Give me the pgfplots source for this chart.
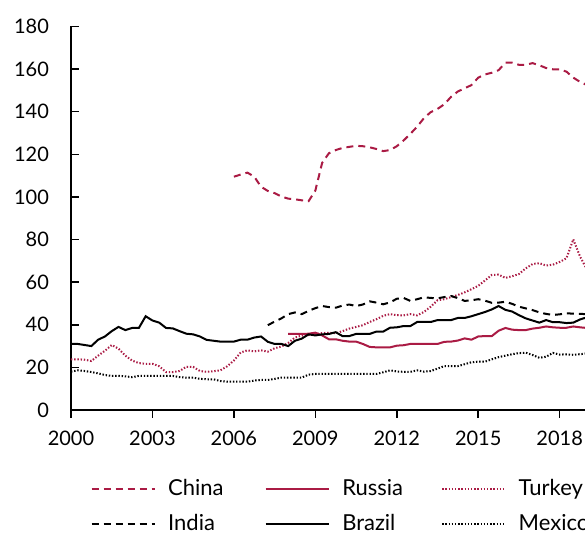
\documentclass[border=0pt]{standalone}
\usepackage{fontspec}
\setmainfont{Lato}
\usepackage{pgfplots}
\pgfplotsset{compat=1.18}
\definecolor{crim}{RGB}{170,27,68}
\begin{document}
\begin{tikzpicture}[font=\fontsize{10}{12}\selectfont]
\useasboundingbox (-35.5pt,-61.5pt) rectangle (257pt,205pt);
\begin{axis}[
  at={(0,0)}, anchor=south west,
  scale only axis, width=271.5pt, height=191.75pt,
  xmin=2000, xmax=2020, ymin=0, ymax=180,
  axis lines*=left,
  axis line style={line width=0.75pt},
  tick align=inside,
  major tick length=4pt, minor tick length=4pt,
  every tick/.style={black, line width=0.75pt},
  x tick style={yshift=-4pt},
  xtick={2000,2003,...,2018}, minor x tick num=2,
  ytick={0,20,...,180},
  /pgf/number format/assume math mode=true,
  /pgf/number format/1000 sep={},
  tick label style={font=\fontsize{10}{12}\selectfont},
  yticklabel style={xshift=-7.5pt},
  xticklabel style={yshift=-7pt},
  legend columns=3,
  legend style={draw=none, fill=none, at={(0,0)}, anchor=north west,
    xshift=9.8pt, yshift=-34.5pt, inner sep=0pt, outer sep=0pt,
    nodes={inner sep=0pt, outer sep=0pt}, cells={anchor=west},
    row sep=8pt, font=\fontsize{11}{13}\selectfont,
    /tikz/every odd column/.style={column sep=6.3pt},
    /tikz/column 2/.style={column sep=20.5pt},
    /tikz/column 4/.style={column sep=19pt}},
  legend image code/.code={\draw[#1] (0pt,0pt) -- (31.5pt,0pt);},
  every axis plot/.append style={line width=1pt},
]
% China
\addplot[crim, dash pattern=on 3.5pt off 2.5pt] coordinates {
(2006.00,109.5)(2006.25,110.5)(2006.50,111.4)(2006.75,109.5)(2007.00,104.8)(2007.25,102.8)(2007.50,101.8)(2007.75,100.2)
(2008.00,99.2)(2008.25,98.9)(2008.50,98.4)(2008.75,98)(2009.00,103)(2009.25,116)(2009.50,120.5)(2009.75,122)
(2010.00,123)(2010.25,123.5)(2010.50,124)(2010.75,123.8)(2011.00,123.3)(2011.25,122.5)(2011.50,121.5)(2011.75,122)
(2012.00,123.8)(2012.25,126.5)(2012.50,129.6)(2012.75,133)(2013.00,137)(2013.25,139.8)(2013.50,141.3)(2013.75,143.5)
(2014.00,147)(2014.25,149.5)(2014.50,151)(2014.75,152.5)(2015.00,156)(2015.25,157.5)(2015.50,158.3)(2015.75,159.5)
(2016.00,163)(2016.25,163)(2016.50,162)(2016.75,162)(2017.00,162.8)(2017.25,161.8)(2017.50,160.5)(2017.75,159.9)
(2018.00,159.9)(2018.25,158.8)(2018.50,156)(2018.75,154)(2019.00,152.5)};
\addlegendentry{China}
% Russia
\addplot[crim] coordinates {
(2008.00,35.7)(2008.25,35.7)(2008.50,35.7)(2008.75,35.8)(2009.00,36.3)(2009.25,35)(2009.50,33.2)(2009.75,33.2)
(2010.00,32.5)(2010.25,32.1)(2010.50,32.1)(2010.75,31)(2011.00,29.6)(2011.25,29.4)(2011.50,29.4)(2011.75,29.4)
(2012.00,30.2)(2012.25,30.4)(2012.50,31)(2012.75,31)(2013.00,31)(2013.25,31)(2013.50,31)(2013.75,32)
(2014.00,32.1)(2014.25,32.6)(2014.50,33.6)(2014.75,33)(2015.00,34.5)(2015.25,34.7)(2015.50,34.7)(2015.75,37.2)
(2016.00,38.5)(2016.25,37.7)(2016.50,37.5)(2016.75,37.5)(2017.00,38.2)(2017.25,38.6)(2017.50,39.2)(2017.75,38.8)
(2018.00,38.6)(2018.25,38.6)(2018.50,39.2)(2018.75,38.8)(2019.00,38.5)};
\addlegendentry{Russia}
% Turkey
\addplot[crim, dash pattern=on 0.7pt off 0.9pt] coordinates {
(2000.00,23.8)(2000.25,23.8)(2000.50,23.6)(2000.75,23)(2001.00,25.5)(2001.25,27.8)(2001.50,30.5)(2001.75,28.8)
(2002.00,25.5)(2002.25,23.2)(2002.50,22)(2002.75,21.7)(2003.00,21.7)(2003.25,20.5)(2003.50,17.8)(2003.75,17.8)
(2004.00,18.3)(2004.25,20.3)(2004.50,20.2)(2004.75,18.3)(2005.00,17.9)(2005.25,18.2)(2005.50,18.6)(2005.75,20.5)
(2006.00,23.2)(2006.25,27)(2006.50,28)(2006.75,27.5)(2007.00,28)(2007.25,27.4)(2007.50,29)(2007.75,29.8)
(2008.00,31.5)(2008.25,34)(2008.50,34.9)(2008.75,35.2)(2009.00,35.5)(2009.25,36.1)(2009.50,36.2)(2009.75,36)
(2010.00,37)(2010.25,38.2)(2010.50,39)(2010.75,39.8)(2011.00,41.3)(2011.25,42.6)(2011.50,44.2)(2011.75,45)
(2012.00,44.5)(2012.25,44.4)(2012.50,45)(2012.75,44.4)(2013.00,46)(2013.25,48.5)(2013.50,51.5)(2013.75,52)
(2014.00,53)(2014.25,54)(2014.50,55.2)(2014.75,56.7)(2015.00,58.3)(2015.25,60.8)(2015.50,63.4)(2015.75,63.5)
(2016.00,62)(2016.25,62.8)(2016.50,63.8)(2016.75,66.5)(2017.00,68.5)(2017.25,68.9)(2017.50,67.8)(2017.75,68.2)
(2018.00,69.5)(2018.25,71.2)(2018.50,80.1)(2018.75,72)(2019.00,66)};
\addlegendentry{Turkey}
% India
\addplot[black, dash pattern=on 3.5pt off 2.5pt] coordinates {
(2007.25,39.8)(2007.50,41.5)(2007.75,43)
(2008.00,45)(2008.25,45.8)(2008.50,45)(2008.75,46.5)(2009.00,47.8)(2009.25,48.8)(2009.50,48.3)(2009.75,48)
(2010.00,49)(2010.25,49.5)(2010.50,48.8)(2010.75,49.5)(2011.00,51)(2011.25,50.4)(2011.50,49.6)(2011.75,50.5)
(2012.00,52.2)(2012.25,52.6)(2012.50,51.2)(2012.75,52)(2013.00,52.9)(2013.25,52.6)(2013.50,52.4)(2013.75,53)
(2014.00,53.5)(2014.25,52.5)(2014.50,51.2)(2014.75,51.5)(2015.00,52)(2015.25,51.3)(2015.50,50.3)(2015.75,50.4)
(2016.00,50.8)(2016.25,49.8)(2016.50,48.5)(2016.75,47.7)(2017.00,46.9)(2017.25,45.8)(2017.50,45.1)(2017.75,44.6)
(2018.00,44.9)(2018.25,45.4)(2018.50,45.2)(2018.75,45.1)(2019.00,45)};
\addlegendentry{India}
% Brazil
\addplot[black] coordinates {
(2000.00,31)(2000.25,31)(2000.50,30.5)(2000.75,30)(2001.00,33)(2001.25,34.5)(2001.50,37)(2001.75,39)
(2002.00,37.5)(2002.25,38.5)(2002.50,38.5)(2002.75,44)(2003.00,42)(2003.25,41)(2003.50,38.5)(2003.75,38.3)
(2004.00,37)(2004.25,35.8)(2004.50,35.5)(2004.75,34.5)(2005.00,32.9)(2005.25,32.5)(2005.50,32.1)(2005.75,32.1)
(2006.00,32.1)(2006.25,33)(2006.50,33)(2006.75,34)(2007.00,34.5)(2007.25,32)(2007.50,31)(2007.75,31)
(2008.00,30)(2008.25,32.5)(2008.50,33.5)(2008.75,35.5)(2009.00,35)(2009.25,35.5)(2009.50,35.7)(2009.75,36.5)
(2010.00,34.7)(2010.25,34.7)(2010.50,35.7)(2010.75,35.7)(2011.00,35.7)(2011.25,36.8)(2011.50,36.8)(2011.75,38.6)
(2012.00,38.8)(2012.25,39.4)(2012.50,39.4)(2012.75,41.3)(2013.00,41.3)(2013.25,41.3)(2013.50,42.2)(2013.75,42.2)
(2014.00,42.2)(2014.25,43.2)(2014.50,43.2)(2014.75,44)(2015.00,45)(2015.25,46)(2015.50,47.2)(2015.75,48.8)
(2016.00,47)(2016.25,46.2)(2016.50,44.5)(2016.75,43)(2017.00,42)(2017.25,41)(2017.50,42.2)(2017.75,41.2)
(2018.00,41.2)(2018.25,40.8)(2018.50,41)(2018.75,42.5)(2019.00,43.5)};
\addlegendentry{Brazil}
% Mexico
\addplot[black, dash pattern=on 0.7pt off 0.9pt] coordinates {
(2000.00,18)(2000.25,18.6)(2000.50,18.3)(2000.75,17.8)(2001.00,17.2)(2001.25,16.4)(2001.50,16)(2001.75,16)
(2002.00,15.8)(2002.25,15.4)(2002.50,16)(2002.75,16)(2003.00,16)(2003.25,16)(2003.50,16)(2003.75,16)
(2004.00,15.4)(2004.25,15.2)(2004.50,15.2)(2004.75,14.6)(2005.00,14.4)(2005.25,14.4)(2005.50,13.6)(2005.75,13.3)
(2006.00,13.3)(2006.25,13.3)(2006.50,13.3)(2006.75,13.8)(2007.00,14.1)(2007.25,14.1)(2007.50,14.6)(2007.75,15.2)
(2008.00,15.2)(2008.25,15.2)(2008.50,15.2)(2008.75,16.6)(2009.00,16.9)(2009.25,16.9)(2009.50,16.9)(2009.75,16.9)
(2010.00,16.9)(2010.25,16.9)(2010.50,16.9)(2010.75,16.9)(2011.00,16.9)(2011.25,16.9)(2011.50,17.7)(2011.75,18.6)
(2012.00,18.1)(2012.25,17.9)(2012.50,17.9)(2012.75,18.6)(2013.00,18)(2013.25,18.3)(2013.50,19.4)(2013.75,20.6)
(2014.00,20.6)(2014.25,20.6)(2014.50,21.5)(2014.75,22.4)(2015.00,22.7)(2015.25,22.7)(2015.50,23.8)(2015.75,24.8)
(2016.00,25.5)(2016.25,26.2)(2016.50,26.7)(2016.75,26.9)(2017.00,25.8)(2017.25,24.5)(2017.50,25)(2017.75,26.8)
(2018.00,26)(2018.25,26.1)(2018.50,25.9)(2018.75,26.2)(2019.00,26.5)};
\addlegendentry{Mexico}
\end{axis}
\end{tikzpicture}
\end{document}
